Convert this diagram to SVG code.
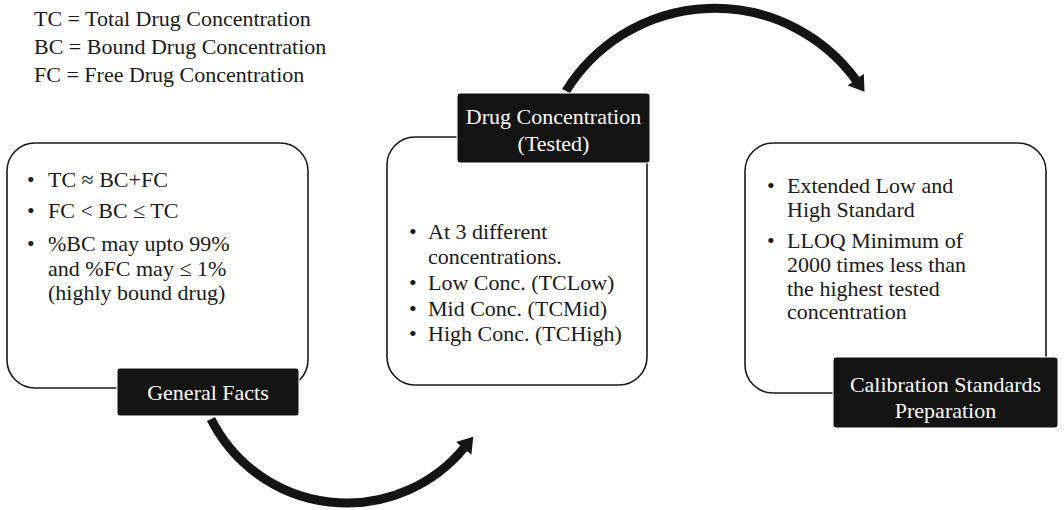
<svg xmlns="http://www.w3.org/2000/svg" width="1064" height="510" viewBox="0 0 1064 510">
<style>
text{font-family:"Liberation Serif","Times New Roman",serif;font-size:22px;fill:#1a1a1a}
.lbl{fill:#ffffff;text-anchor:middle}
.box{fill:#ffffff;stroke:#1a1a1a;stroke-width:1.6}
.tag{fill:#141414;stroke:#ffffff;stroke-width:1}
.arc{fill:none;stroke:#141414;stroke-width:9}
</style>
<defs>
<marker id="head" markerUnits="userSpaceOnUse" markerWidth="16" markerHeight="22" viewBox="0 0 16 22" refX="0.5" refY="11" orient="auto">
<path d="M0,1 L15,11 L0,21 Z" fill="#141414"/>
</marker>
</defs>
<g id="legend">
<text x="34" y="26">TC = Total Drug Concentration</text>
<text x="34" y="54">BC = Bound Drug Concentration</text>
<text x="34" y="82">FC = Free Drug Concentration</text>
</g>
<g id="connectors">
<path class="arc" d="M211,419 A152,152 0 0 0 464,448" marker-end="url(#head)"/>
<path class="arc" d="M566,91 A175,175 0 0 1 856,80" marker-end="url(#head)"/>
</g>
<g id="general-facts">
<rect class="box" x="7" y="143" width="301" height="245" rx="28"/>
<text x="27" y="187">•</text><text x="48" y="187">TC ≈ BC+FC</text>
<text x="27" y="218">•</text><text x="48" y="218">FC &lt; BC ≤ TC</text>
<text x="27" y="251">•</text><text x="48" y="251">%BC may upto 99%</text>
<text x="48" y="276">and %FC may ≤ 1%</text>
<text x="48" y="300">(highly bound drug)</text>
<rect class="tag" x="117" y="368" width="182" height="48" rx="3"/>
<text class="lbl" x="208" y="400">General Facts</text>
</g>
<g id="drug-concentration">
<rect class="box" x="387" y="137" width="260" height="248" rx="28"/>
<text x="409" y="239">•</text><text x="428" y="239">At 3 different</text>
<text x="428" y="264">concentrations.</text>
<text x="409" y="290">•</text><text x="428" y="290">Low Conc. (TCLow)</text>
<text x="409" y="316">•</text><text x="428" y="316">Mid Conc. (TCMid)</text>
<text x="409" y="341">•</text><text x="428" y="341">High Conc. (TCHigh)</text>
<rect class="tag" x="457" y="93" width="193" height="70" rx="3"/>
<text class="lbl" x="553.5" y="124">Drug Concentration</text>
<text class="lbl" x="553.5" y="151">(Tested)</text>
</g>
<g id="calibration-standards">
<rect class="box" x="745" y="143" width="301" height="250" rx="28"/>
<text x="767" y="193">•</text><text x="787" y="193">Extended Low and</text>
<text x="787" y="217">High Standard</text>
<text x="767" y="248">•</text><text x="787" y="248">LLOQ Minimum of</text>
<text x="787" y="272">2000 times less than</text>
<text x="787" y="296">the highest tested</text>
<text x="787" y="319">concentration</text>
<rect class="tag" x="833" y="357" width="225" height="71" rx="3"/>
<text class="lbl" x="945.5" y="392">Calibration Standards</text>
<text class="lbl" x="945.5" y="418">Preparation</text>
</g>
</svg>
